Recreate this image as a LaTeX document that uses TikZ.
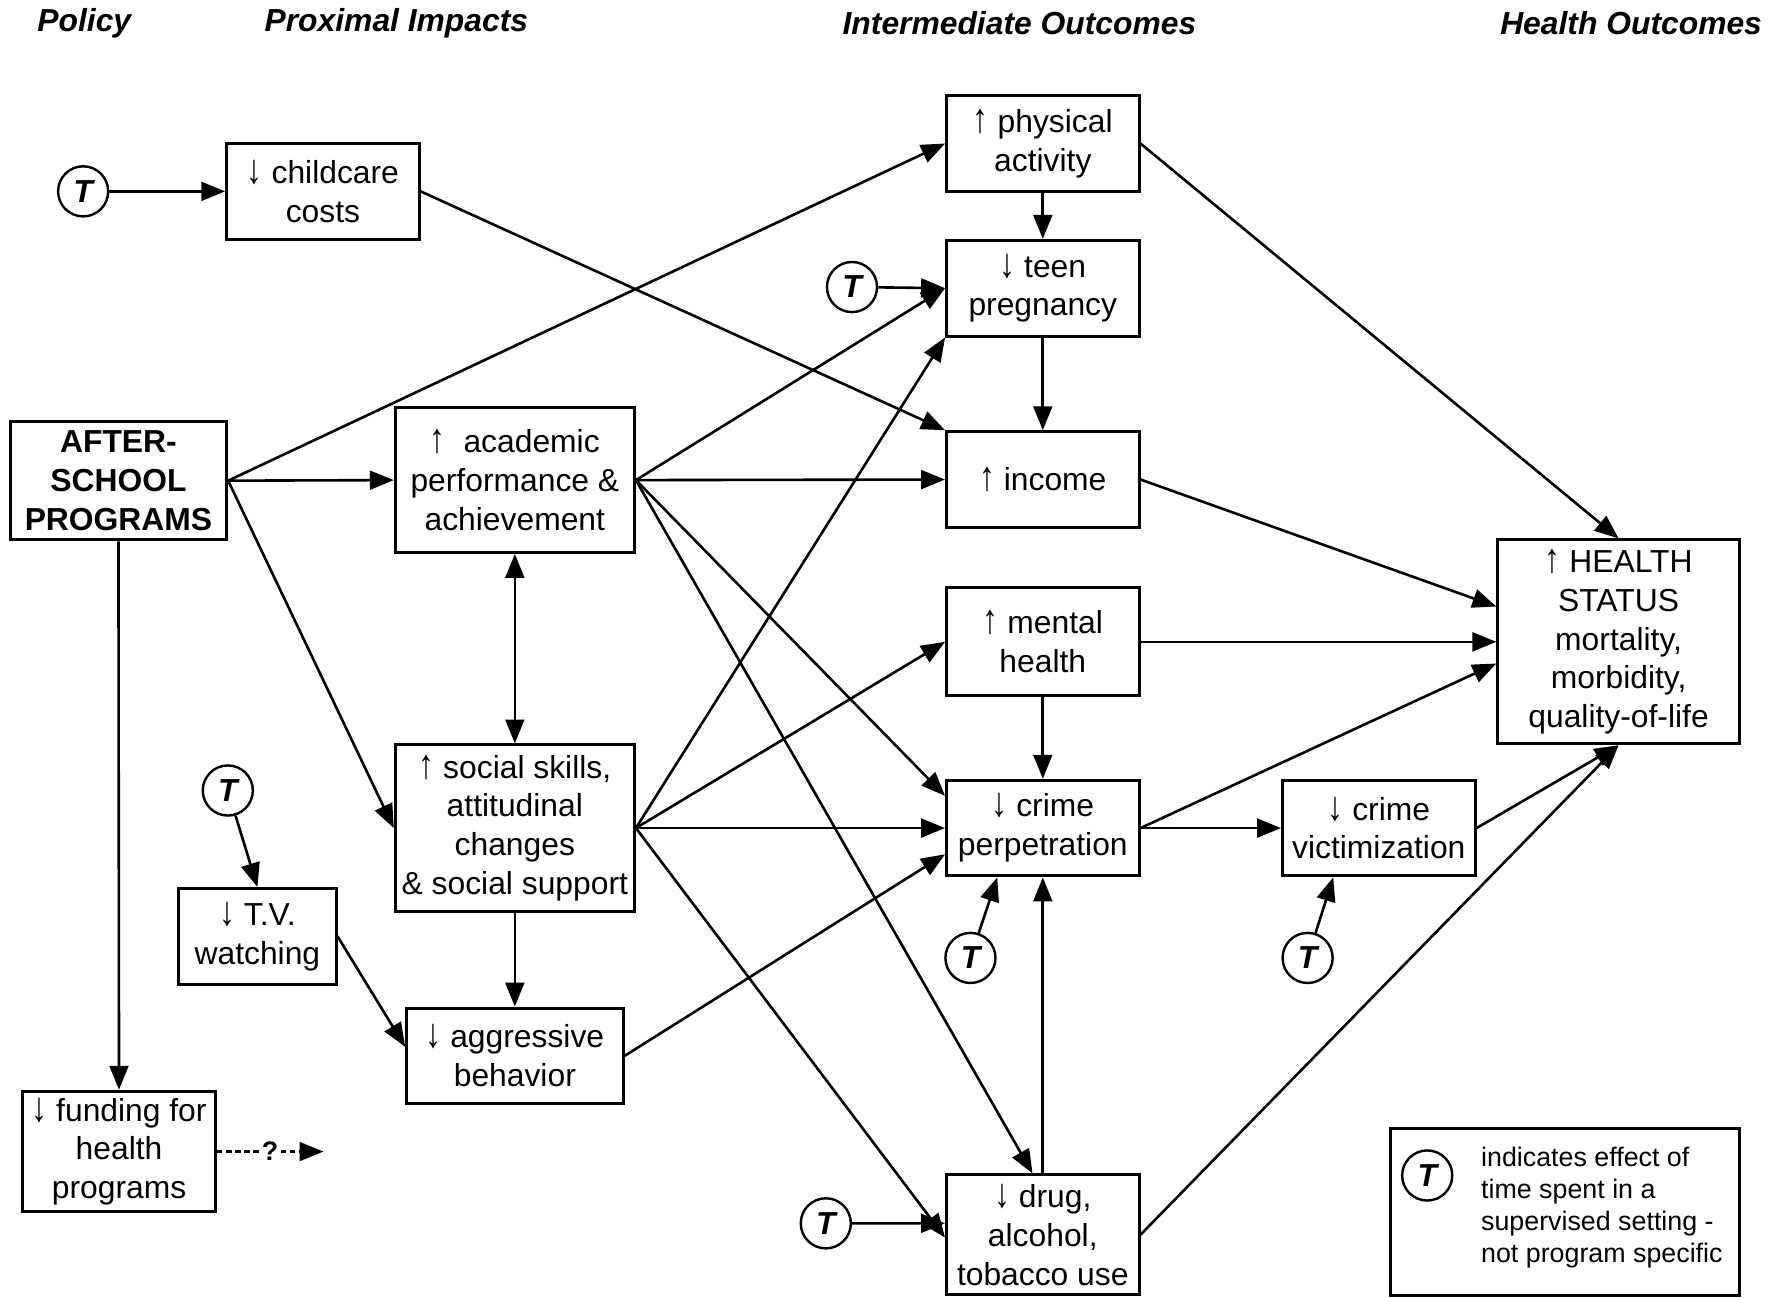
\documentclass[tikz,border=0pt]{standalone}
\usepackage{fontspec}
\setmainfont{Liberation Sans}
\usetikzlibrary{arrows.meta,positioning}
\tikzset{>={Triangle[length=0.42cm,width=0.33cm]}}
\colorlet{penColor}{black}
\newcommand{\uparr}{\scalebox{1}[1.3]{↑}}
\newcommand{\dnarr}{\scalebox{1}[1.3]{↓}}
\tikzset{
  box/.style={draw=penColor, line width=1.5pt, align=center, inner sep=1pt,
    font=\fontsize{15.9pt}{19.4pt}\selectfont, minimum width=3.38cm, minimum height=1.68cm},
  tcirc/.style={draw=penColor, circle, line width=1.2pt, minimum size=0.88cm, inner sep=0pt,
    font=\fontsize{15.9pt}{19.4pt}\selectfont\bfseries\itshape},
  head/.style={font=\fontsize{15.9pt}{19.4pt}\selectfont\bfseries\itshape},
  link/.style={->, penColor, line width=1.3pt}
}

\begin{document}
\begin{tikzpicture}[x=0.02cm,y=-0.02cm]
				\useasboundingbox (0,0) rectangle (1568,1139);
				% column headings
				\node[head] (hpolicy) at (74,20) {Policy};
				\node[head] (hprox) at (348,20) {Proximal Impacts};
				\node[head] (hinter) at (895,20) {Intermediate Outcomes};
				\node[head] (hhealth) at (1432,20) {Health Outcomes};
				
				% boxes
				\node[box] (childcare) at (283.5,168) {\dnarr{} childcare\\costs};
				\node[box, minimum width=3.80cm, minimum height=2.08cm, font=\fontsize{15.9pt}{19.4pt}\selectfont\bfseries] (after) at (104,422) {AFTER-\\SCHOOL\\PROGRAMS};
				\node[box, minimum width=4.20cm, minimum height=2.54cm] (academic) at (452,421.5) {\uparr{}~ academic\\performance \&\\achievement};
				\node[box, minimum width=4.20cm, minimum height=2.92cm] (social) at (452,727) {\uparr{} social skills,\\attitudinal\\changes\\\& social support};
				\node[box, minimum width=2.76cm] (tv) at (226,822) {\dnarr{} T.V.\\watching};
				\node[box, minimum width=3.80cm] (aggressive) at (452,927) {\dnarr{} aggressive\\behavior};
				\node[box, minimum height=2.12cm] (funding) at (104.5,1011) {\dnarr{} funding for\\health\\programs};
				\node[box] (physical) at (915.5,126) {\uparr{} physical\\activity};
				\node[box] (teen) at (915.5,253) {\dnarr{} teen\\pregnancy};
				\node[box] (income) at (915.5,421) {\uparr{} income};
				\node[box, minimum height=1.90cm] (mental) at (915.5,563.5) {\uparr{} mental\\health};
				\node[box] (crime) at (915.5,727) {\dnarr{} crime\\perpetration};
				\node[box, minimum height=2.10cm] (drug) at (915.5,1084) {\dnarr{} drug,\\alcohol,\\tobacco use};
				\node[box] (victim) at (1210.5,727) {\dnarr{} crime\\victimization};
				\node[box, minimum width=4.24cm, minimum height=3.58cm] (health) at (1421,563.5) {\uparr{} HEALTH\\STATUS\\mortality,\\morbidity,\\quality-of-life};
				
				% time spent markers
				\node[tcirc] (t1) at (73,168) {T};
				\node[tcirc] (t2) at (200,694) {T};
				\node[tcirc] (t3) at (748,252) {T};
				\node[tcirc] (t4) at (852,841) {T};
				\node[tcirc] (t5) at (725,1074) {T};
				\node[tcirc] (t6) at (1148,841) {T};
				
				% legend
				\node[draw=penColor, line width=1.5pt, minimum width=6.12cm, minimum height=2.94cm] (legend) at (1374,1064) {};
				\node[tcirc] (tleg) at (1253,1032) {T};
				\node[align=left, anchor=west, inner sep=0pt, font=\fontsize{13.4pt}{15.9pt}\selectfont] (legtext) at (1300,1060) {indicates effect of\\time spent in a\\supervised setting -\\not program specific};
				
				% links from the program
				\draw[link] (after.east) -- (physical.west);
				\draw[link] (after.east) -- (academic.west);
				\draw[link] (after.east) -- (social.west);
				\draw[link] (after.south) -- (funding.north);
				\draw[link] (t1) -- (childcare.west);
				\draw[link] (childcare.east) -- (income.north west);
				\draw[link] (t2) -- (tv.north);
				
				% proximal to intermediate
				\draw[link, <->] (academic.south) -- (social.north);
				\draw[link] (academic.east) -- (teen.west);
				\draw[link] (academic.east) -- (income.west);
				\draw[link] (academic.east) -- ([yshift=-0.30cm]crime.north west);
				\draw[link] (academic.east) -- ([xshift=-0.18cm]drug.north);
				\draw[link] (social.east) -- (teen.south west);
				\draw[link] (social.east) -- (mental.west);
				\draw[link] (social.east) -- (crime.west);
				\draw[link] (social.east) -- ([yshift=-0.05cm]drug.west);
				\draw[link] (social.south) -- (aggressive.north);
				\draw[link] (tv.east) -- ([yshift=0.16cm]aggressive.west);
				\draw[link] (aggressive.east) -- ([yshift=-0.46cm]crime.west);
				
				% among intermediate outcomes
				\draw[link] (physical.south) -- (teen.north);
				\draw[link] (teen.south) -- (income.north);
				\draw[link] (t3) -- (teen.west);
				\draw[link] (mental.south) -- (crime.north);
				\draw[link] (drug.north) -- (crime.south);
				\draw[link] (t4) -- ([xshift=-0.80cm]crime.south);
				\draw[link] (t5) -- ([yshift=0.20cm]drug.west);
				\draw[link] (crime.east) -- (victim.west);
				\draw[link] (t6) -- ([xshift=-0.80cm]victim.south);
				
				% to health status
				\draw[link] (physical.east) -- (health.north);
				\draw[link] (income.east) -- ([yshift=0.62cm]health.west);
				\draw[link] (mental.east) -- (health.west);
				\draw[link] (crime.east) -- ([yshift=-0.38cm]health.west);
				\draw[link] (victim.east) -- (health.south);
				\draw[link] (drug.east) -- (health.south);
				
				% funding question
				\coordinate (qend) at (284,1011);
				\draw[link, dash pattern=on 0.10cm off 0.06cm] (funding.east) -- node[fill=white, inner sep=1pt, font=\fontsize{13.4pt}{15.9pt}\selectfont\bfseries] (qmark) {?} (qend);
\end{tikzpicture}
\end{document}
